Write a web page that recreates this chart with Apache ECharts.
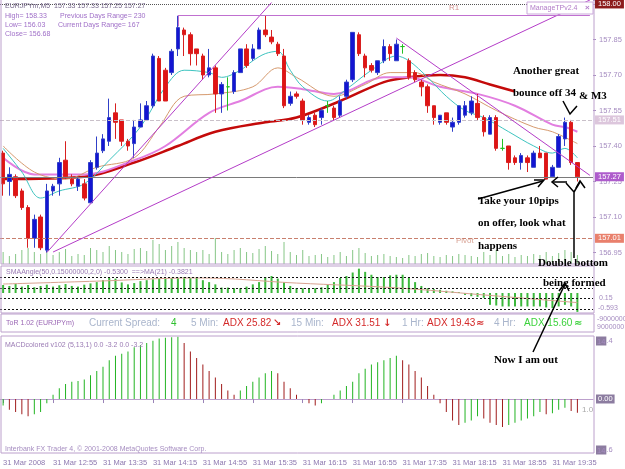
<!DOCTYPE html>
<html>
<head>
<meta charset="utf-8">
<script src="https://cdn.jsdelivr.net/npm/echarts@6/dist/echarts.min.js"></script>
<style>
  html, body { margin: 0; padding: 0; background: #fff; }
  #main { width: 625px; height: 469px; }
</style>
</head>
<body>
<div id="main"></div>
<script>
// EURJPYm M5, 31 Mar 2008, 12:15 - 19:55 (two empty slots at the right)
const times = [];
for (let k = 0; k < 95; k++) {
  const m = 12 * 60 + 15 + 5 * k;
  times.push(String(Math.floor(m / 60)).padStart(2, '0') + ':' + String(m % 60).padStart(2, '0'));
}

// [open, close, low, high]
const candles = [
  [157.37,157.24,157.19,157.38],[157.25,157.28,157.19,157.31],[157.27,157.19,157.18,157.28],[157.21,157.14,157.13,157.22],
  [157.14,157.01,156.97,157.15],[157.01,157.09,156.97,157.11],[157.10,156.97,156.96,157.11],[156.96,157.21,156.95,157.24],
  [157.21,157.23,157.19,157.24],[157.24,157.33,157.19,157.35],[157.34,157.27,157.26,157.42],[157.26,157.24,157.23,157.28],
  [157.23,157.26,157.21,157.27],[157.24,157.18,157.17,157.26],[157.16,157.33,157.16,157.34],[157.31,157.37,157.30,157.44],
  [157.38,157.43,157.37,157.45],[157.42,157.52,157.40,157.60],[157.54,157.50,157.43,157.58],[157.51,157.42,157.40,157.51],
  [157.42,157.40,157.38,157.43],[157.41,157.48,157.35,157.51],[157.48,157.51,157.48,157.58],[157.51,157.57,157.51,157.59],
  [157.57,157.78,157.56,157.79],[157.77,157.59,157.59,157.78],[157.72,157.59,157.59,157.73],[157.71,157.80,157.70,157.81],
  [157.81,157.90,157.78,157.95],[157.89,157.87,157.78,157.90],[157.87,157.79,157.74,157.88],[157.81,157.79,157.74,157.81],
  [157.78,157.70,157.68,157.79],[157.70,157.73,157.69,157.81],[157.73,157.62,157.54,157.74],[157.62,157.66,157.54,157.67],
  [157.65,157.65,157.55,157.69],[157.63,157.71,157.62,157.72],[157.71,157.81,157.71,157.81],[157.81,157.74,157.73,157.83],
  [157.77,157.81,157.76,157.83],[157.81,157.89,157.81,157.90],[157.89,157.87,157.86,157.95],[157.86,157.84,157.83,157.89],
  [157.83,157.79,157.78,157.84],[157.78,157.57,157.56,157.81],[157.58,157.61,157.57,157.63],[157.62,157.61,157.60,157.63],
  [157.59,157.51,157.49,157.60],[157.50,157.52,157.49,157.53],[157.53,157.49,157.48,157.54],[157.52,157.55,157.49,157.56],
  [157.57,157.57,157.54,157.59],[157.56,157.52,157.51,157.57],[157.53,157.59,157.52,157.61],[157.61,157.67,157.60,157.68],
  [157.68,157.88,157.67,157.88],[157.87,157.79,157.78,157.88],[157.78,157.73,157.69,157.79],[157.74,157.72,157.71,157.75],
  [157.71,157.76,157.70,157.76],[157.76,157.82,157.75,157.85],[157.82,157.79,157.76,157.83],[157.76,157.83,157.76,157.85],
  [157.82,157.82,157.79,157.83],[157.76,157.69,157.68,157.77],[157.71,157.68,157.67,157.72],[157.67,157.65,157.61,157.68],
  [157.65,157.57,157.54,157.66],[157.57,157.52,157.49,157.57],[157.50,157.53,157.49,157.53],[157.54,157.50,157.49,157.54],
  [157.48,157.50,157.46,157.52],[157.50,157.57,157.49,157.57],[157.53,157.57,157.52,157.59],[157.54,157.59,157.53,157.61],
  [157.58,157.52,157.51,157.62],[157.52,157.46,157.44,157.53],[157.45,157.52,157.45,157.53],[157.52,157.39,157.38,157.53],
  [157.39,157.39,157.38,157.43],[157.40,157.33,157.30,157.40],[157.35,157.33,157.32,157.36],[157.33,157.36,157.30,157.37],
  [157.35,157.33,157.29,157.36],[157.31,157.37,157.31,157.38],[157.37,157.35,157.35,157.40],[157.37,157.26,157.26,157.37],
  [157.27,157.31,157.27,157.32],[157.31,157.44,157.31,157.45],[157.43,157.50,157.40,157.52],[157.50,157.33,157.32,157.51],
  [157.33,157.27,157.25,157.33]
];

// moving averages as [bar index, price]
const ma8 = [[0,157.39],[3,157.29],[6,157.18],[9,157.21],[13,157.24],[17,157.34],[22,157.48],[26,157.65],[29,157.72],[33,157.71],
  [35,157.69],[38,157.72],[40,157.76],[42,157.79],[44,157.80],[46,157.72],[48,157.65],[52,157.59],[55,157.64],[59,157.72],
  [63,157.78],[65,157.76],[68,157.69],[71,157.61],[74,157.55],[77,157.52],[81,157.46],[85,157.40],[88,157.37],[90,157.39],[92,157.35]];
const ma13 = [[0,157.40],[5,157.29],[10,157.26],[15,157.31],[21,157.35],[25,157.48],[29,157.61],[34,157.62],[40,157.65],[44,157.73],
  [47,157.69],[53,157.61],[58,157.66],[62,157.71],[66,157.71],[69,157.67],[74,157.62],[79,157.55],[85,157.48],[88,157.46],[92,157.41]];
const ma21 = [[0,157.35],[5,157.28],[13,157.28],[21,157.34],[26,157.40],[33,157.54],[38,157.59],[44,157.65],[48,157.64],[53,157.62],
  [55,157.63],[61,157.69],[65,157.69],[70,157.65],[76,157.62],[82,157.57],[88,157.49],[90,157.48],[92,157.46]];
const ma34 = [[0,157.26],[13,157.27],[21,157.33],[28,157.40],[34,157.46],[42,157.50],[47,157.52],[54,157.59],[61,157.67],[65,157.69],
  [70,157.70],[74,157.69],[78,157.66],[82,157.63]];

const volume = [12,8,10,14,16,12,10,18,9,12, 15,8,10,9,16,14,12,18,14,12, 10,15,16,13,24,20,14,18,22,16,
  14,12,14,10,26,12,10,14,16,12, 11,15,18,13,10,22,12,9,14,8, 9,10,7,9,12,8,14,16,11,8,
  9,10,8,7,6,9,8,10,11,8, 7,9,8,10,9,8,7,12,9,14, 8,10,7,9,8,10,9,12,8,11, 14,12,9];

const angleHist = [0.25,0.22,0.28,0.2,0.25,0.18,0.22,0.26,0.2,0.24,0.28,0.22,0.2,0.26,0.3,
  0.34,0.40,0.47,0.45,0.33,0.27,0.31,0.37,0.40,0.43,0.45,0.45,0.47,0.47,0.50,0.47,0.47,0.40,0.34,0.27,0.17,0.17,0.15,0.15,0.20,
  0.27,0.34,0.50,0.53,0.45,0.34,0.22,0.15,0.15,0.15,0.15,
  0.18,0.25,0.34,0.47,0.53,0.64,0.76,0.66,0.57,0.50,0.50,0.55,0.57,0.57,0.47,0.34,0.22,0.15,0.12,0.10,0.07,0.05,0.03,-0.06,-0.10,-0.12,-0.15,
  -0.37,-0.39,-0.42,-0.42,-0.42,-0.42,-0.42,-0.42,-0.42,-0.45,-0.47,-0.42,-0.37,-0.42,-0.59];
const angleMa = [[0,0.28],[15,0.37],[31,0.47],[47,0.31],[63,0.16],[77,-0.06],[92,-0.30]];
const angleLevels = [0.5, 0.15, -0.15, -0.5];

const macd = [-1.5,-2.5,-3,-3.5,-4,-3.5,-3,
  -1,1,2.5,3.5,4,4.2,4.5,5.5,6.5,7.5,9,10,10.5,11,12,12.5,13,13.5,14,14.2,14.3,14.4,
  13,11,9.5,8,6.5,5,3.5,2,1,
  2,3,4,5,6,6.5,6,
  4,2.5,1,0,-1,-1.5,-1,0,
  1,2,3,4,6,7,8,8.5,9,9.5,10,
  9,8,6.5,5,3,1,-1,-3,-5,
  -6,-5.5,-5,-4,-4.5,-5.5,-6,-6.5,-6,-5.5,-5,-4.5,-4,-3,
  -3.5,-3.3,-2.5,-2,-2.8,-3.2];

const priceMin = 156.95, priceMax = 158.0167, priceStep = 0.15;
const bidPrice = 157.27, dashPrice = 157.51, pivotPrice = 157.01, topPrice = 158.00, highLine = 157.953;

const lav = '#bca0cc';
const labelCol = '#a58cc0';
const sans = '"Liberation Sans", Arial, sans-serif';
const serif = 'bold 11px "Liberation Serif", "Times New Roman", serif';

const chart = echarts.init(document.getElementById('main'));

function xAxisFor(k) {
  const last = k === 3;
  return {
    type: 'category', gridIndex: k, data: times, boundaryGap: true,
    axisLine: { show: last, lineStyle: { color: lav } },
    axisTick: { show: last, interval: 7, alignWithLabel: true, length: 4, lineStyle: { color: '#9a84b8' } },
    axisLabel: {
      show: last, interval: 7, align: 'left', margin: 6, fontSize: 7.5, fontFamily: sans, color: '#8d78b0',
      formatter: (v, idx) => idx === 0 ? '31 Mar 2008' : '31 Mar ' + v
    },
    splitLine: { show: false }
  };
}

function priceLine(value, color, type, bg) {
  return {
    yAxis: value,
    lineStyle: { color: color, type: type, width: 1 },
    label: {
      show: true, position: 'end', distance: 2, formatter: value.toFixed(2),
      color: '#fff', backgroundColor: bg, padding: [1, 3, 0, 3], fontSize: 7.5, fontFamily: sans
    }
  };
}
function seg(a, b, color) {
  return [{ coord: a, lineStyle: { color: color || '#b43cc8', width: 1, type: 'solid' }, label: { show: false } }, { coord: b }];
}

function txt(x, y, text, fill, font, extra) {
  return { type: 'text', x: x, y: y, z: 100, silent: true,
    style: Object.assign({ text: text, fill: fill, font: font, verticalAlign: 'middle' }, extra || {}) };
}
function pen(points, w) {
  return { type: 'polyline', z: 101, silent: true, shape: { points: points },
    style: { stroke: '#000', lineWidth: w || 1.5, fill: null } };
}
function frame(x, y, w, h) {
  return { type: 'rect', z: 90, silent: true, shape: { x: x, y: y, width: w, height: h },
    style: { stroke: lav, lineWidth: 1, fill: null } };
}

const boxed = { b: { backgroundColor: '#8c7ca0', color: '#e8e0ee', fontSize: 7.5, fontFamily: 'Liberation Sans', padding: [1, 1, 0, 1] } };

const option = {
  animation: false,
  backgroundColor: '#ffffff',
  grid: [
    { left: 0, top: 0, width: 593, height: 252.5, outerBoundsMode: 'none' },
    { left: 0, top: 230, width: 593, height: 34, outerBoundsMode: 'none' },
    { left: 0, top: 266, width: 593, height: 46, outerBoundsMode: 'none' },
    { left: 0, top: 336, width: 593, height: 117, outerBoundsMode: 'none' }
  ],
  xAxis: [xAxisFor(0), xAxisFor(1), xAxisFor(2), xAxisFor(3)],
  yAxis: [
    {
      gridIndex: 0, position: 'right', min: priceMin, max: priceMax, interval: priceStep, scale: true,
      axisLine: { show: false },
      axisTick: { show: true, length: 3, lineStyle: { color: labelCol } },
      axisLabel: {
        margin: 6, fontSize: 7.5, fontFamily: sans, color: labelCol,
        formatter: v => {
          const k = (v - priceMin) / priceStep;
          return Math.abs(k - Math.round(k)) < 0.01 ? v.toFixed(2) : '';
        }
      },
      splitLine: { show: false }
    },
    { gridIndex: 1, min: 0, max: 34, show: false },
    { gridIndex: 2, min: -0.593, max: 0.843, show: false },
    { gridIndex: 3, min: -12.5, max: 14.6, show: false }
  ],
  series: [
    {
      type: 'bar', xAxisIndex: 1, yAxisIndex: 1, data: volume, barWidth: 1,
      itemStyle: { color: '#86c686' }, silent: true
    },
    {
      name: 'ma34', type: 'line', data: ma34, smooth: 0.35, symbol: 'none',
      lineStyle: { color: '#c40a0a', width: 2.5 }, z: 3
    },
    {
      name: 'ma21', type: 'line', data: ma21, smooth: 0.35, symbol: 'none',
      lineStyle: { color: '#e27ee0', width: 2 }, z: 3
    },
    {
      name: 'ma13', type: 'line', data: ma13, smooth: 0.35, symbol: 'none',
      lineStyle: { color: '#d69a6e', width: 1 }, z: 3
    },
    {
      name: 'ma8', type: 'line', data: ma8, smooth: 0.35, symbol: 'none',
      lineStyle: { color: '#3ec4c0', width: 1 }, z: 3
    },
    {
      type: 'candlestick', data: candles, barWidth: 4, z: 4,
      itemStyle: {
        color: '#1414d2', color0: '#e01414',
        borderColor: '#3040c8', borderColor0: '#d82020', borderColorDoji: '#22c022', borderWidth: 1
      },
      markLine: {
        symbol: 'none', silent: true, animation: false, z: 5,
        data: [
          priceLine(bidPrice, '#7a7a7a', 'solid', '#ae5ccc'),
          priceLine(dashPrice, '#c9c0c9', 'dashed', '#dcc6dc'),
          priceLine(pivotPrice, '#c8806e', 'dashed', '#e9806c'),
          priceLine(topPrice, '#555', 'dotted', '#8c1c1c'),
          seg([7, 156.95], [43, 158.006]),
          seg([8, 156.952], [94, 158.0167]),
          seg([63, 157.856], [94, 157.276]),
          seg([28, highLine], [94, highLine], '#c070d0'),
          seg([28, highLine], [28, 157.905], '#c070d0')
        ]
      }
    },
    {
      type: 'bar', xAxisIndex: 2, yAxisIndex: 2, data: angleHist, barWidth: 2,
      itemStyle: { color: '#3cb83c' },
      markLine: {
        symbol: 'none', silent: true,
        lineStyle: { color: '#111', type: [2, 2], width: 1 },
        label: { show: false },
        data: angleLevels.map(v => ({ yAxis: v }))
      }
    },
    {
      type: 'line', xAxisIndex: 2, yAxisIndex: 2, data: angleMa, smooth: 0.4, symbol: 'none',
      lineStyle: { color: '#d8a290', width: 1 }
    },
    {
      type: 'bar', xAxisIndex: 3, yAxisIndex: 3, data: macd, barWidth: 1,
      itemStyle: {
        color: p => (p.dataIndex > 0 && macd[p.dataIndex] < macd[p.dataIndex - 1]) ? '#a01c1c' : '#22b422'
      }
    }
  ],
  graphic: [
    frame(1, -1, 593, 265),
    frame(1, 266, 593, 47),
    frame(1, 314, 593, 18),
    frame(1, 336, 593, 117),

    txt(5, 6, 'EURJPYm,M5  157.33 157.33 157.25 157.27', '#786a8c', '7px ' + sans),
    txt(5, 16, 'High= 158.33', '#a070c8', '7px ' + sans),
    txt(60, 16, 'Previous Days Range= 230', '#a070c8', '7px ' + sans),
    txt(5, 25, 'Low= 156.03', '#a070c8', '7px ' + sans),
    txt(58, 25, 'Current Days Range= 167', '#a070c8', '7px ' + sans),
    txt(5, 34, 'Close= 156.68', '#a070c8', '7px ' + sans),

    txt(449, 8, 'R1', '#d49490', '8px ' + sans),
    txt(456, 241, 'Pivot', '#d8a294', '8px ' + sans),
    { type: 'rect', z: 95, silent: true, shape: { x: 527, y: 2, width: 66, height: 12 },
      style: { stroke: '#caa8da', fill: '#fff', lineWidth: 1 } },
    txt(530, 8, 'ManageTPv2.4', '#b27cc8', '7px ' + sans),
    txt(585, 8, '×', '#b27cc8', 'bold 8px ' + sans),

    txt(6, 272, 'SMAAngle(50,0.15000000,2,0) -0.5300  ==>MA(21) -0.3821', '#9a7ab4', '7px ' + sans),
    txt(599, 298, '0.15', labelCol, '7px ' + sans),
    txt(598, 308, '-0.593', labelCol, '7px ' + sans),

    txt(6, 323, 'ToR 1.02 (EURJPYm)', '#9a66b4', '7px ' + sans),
    txt(89, 323, 'Current Spread:', '#a9b5cc', '10px ' + sans),
    txt(171, 323, '4', '#2fc02f', '10px ' + sans),
    txt(191, 323, '5 Min:', '#a9b5cc', '10px ' + sans),
    txt(223, 323, 'ADX 25.82', '#d42a2a', '10px ' + sans),
    txt(273, 323, '↘', '#d42a2a', 'bold 10px "DejaVu Sans"'),
    txt(291, 323, '15 Min:', '#a9b5cc', '10px ' + sans),
    txt(332, 323, 'ADX 31.51', '#d42a2a', '10px ' + sans),
    txt(383, 323, '↓', '#d42a2a', 'bold 10px "DejaVu Sans"'),
    txt(402, 323, '1 Hr:', '#a9b5cc', '10px ' + sans),
    txt(427, 323, 'ADX 19.43', '#d42a2a', '10px ' + sans),
    txt(476, 323, '≈', '#d42a2a', 'bold 10px "DejaVu Sans"'),
    txt(494, 323, '4 Hr:', '#a9b5cc', '10px ' + sans),
    txt(524, 323, 'ADX 15.60', '#3cd23c', '10px ' + sans),
    txt(574, 323, '≈', '#3cd23c', 'bold 10px "DejaVu Sans"'),
    txt(597, 319, '-9000000', labelCol, '7px ' + sans),
    txt(597, 327, '9000000', labelCol, '7px ' + sans),

    txt(5, 345, 'MACDcolored v102 (5,13,1) 0.0 -3.2 0.0 -3.2', '#9a7ab4', '7px ' + sans),
    txt(596, 341, '{b|14}.4', labelCol, '7.5px ' + sans, { rich: boxed }),
    txt(596, 399, '0.00', '#fff', '7.5px ' + sans, { backgroundColor: '#8c7ca0', padding: [1, 2, 0, 2] }),
    txt(596, 450, '{b|14}.6', labelCol, '7.5px ' + sans, { rich: boxed }),
    txt(582, 410, '1.0', '#a8a8a8', '8px ' + sans),
    txt(5, 449, 'Interbank FX Trader 4, © 2001-2008 MetaQuotes Software Corp.', '#a58cc0', '7px ' + sans),

    txt(513, 71, 'Another great', '#000', serif),
    txt(513, 93, 'bounce off 34', '#000', serif),
    txt(579, 96, '& M3', '#000', serif),
    txt(478, 201, 'Take your 10pips', '#000', serif),
    txt(478, 223, 'on offer, look what', '#000', serif),
    txt(478, 246, 'happens', '#000', serif),
    txt(538, 263, 'Double bottom', '#000', serif),
    txt(543, 283, 'being formed', '#000', serif),
    txt(494, 360, 'Now I am out', '#000', serif),

    pen([[563, 101], [570, 114], [577, 106]]),
    pen([[478, 199], [543, 181]]),
    pen([[534, 180], [544, 180], [538, 187]]),
    pen([[553, 182], [567, 182]]),
    pen([[558, 177], [552, 182], [558, 187]]),
    pen([[574, 258], [574, 192], [566, 183]]),
    pen([[574, 192], [580, 182]]),
    pen([[576, 188], [580, 181], [585, 188]]),
    pen([[533, 352], [565, 284]]),
    pen([[559, 291], [565, 283], [569, 291]])
  ]
};

chart.setOption(option);
</script>
</body>
</html>
